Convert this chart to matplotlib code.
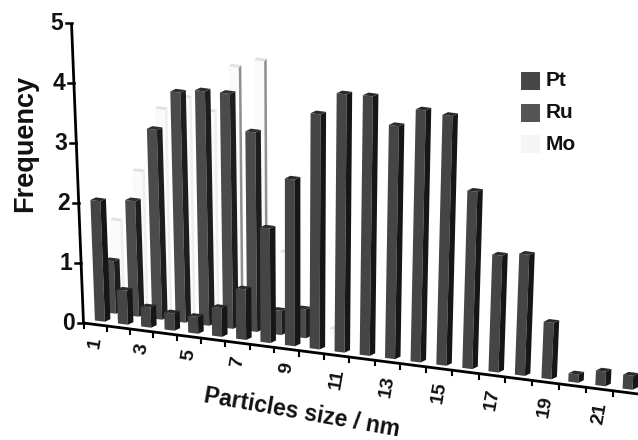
"""Skewed pseudo-3D histogram of particle sizes for Pt, Ru and Mo."""

import matplotlib

matplotlib.use("Agg")
import matplotlib.pyplot as plt  # noqa: E402
import numpy as np  # noqa: E402

plt.rcParams["font.family"] = ["Liberation Sans", "DejaVu Sans"]

pt_sizes = list(range(1, 23))
pt_freq = [2.0, 0.56, 0.33, 0.28, 0.27, 0.46, 0.8, 1.8, 2.6, 3.64, 3.97,
           3.96, 3.53, 3.79, 3.73, 2.63, 1.72, 1.77, 0.82, 0.12, 0.21, 0.2]
ru_sizes = list(range(1, 10))
ru_freq = [0.87, 1.9, 3.1, 3.73, 3.77, 3.75, 3.16, 0.38, 0.45]
mo_sizes = [2, 3, 4, 5, 6, 7, 8, 9, 11]
mo_freq = [1.44, 2.28, 3.32, 3.53, 3.33, 4.06, 4.18, 1.2, 0.1]
y_ticks = [0, 1, 2, 3, 4, 5]
x_tick_labels = [1, 3, 5, 7, 9, 11, 13, 15, 17, 19, 21]
legend_names = ["Pt", "Ru", "Mo"]
legend_colors = ["#474747", "#555555", "#f5f5f5"]


def axis_x(t):
    return 83.5 + 23.0 * t + 0.1056 * t**2


def axis_y(x):
    return 323 + 0.128 * (x - 83.5)


def project(t, v):
    # bin index t, frequency v -> picture pixels (the verticals fan out a bit)
    x0 = axis_x(t)
    return x0 + (-2.4 + 0.28 * t) * v, axis_y(x0) - 60 * (1 + 0.008 * t) * v


def draw_bar(ax, size, value, dx, dy, front, side, top, front_w=10.0, side_w=5.5):
    t = size - 0.5
    x0, y0 = project(t, 0)
    x1, y1 = project(t, value)
    x0 += dx - 0.2 * t
    x1 += dx - 0.2 * t
    y0 += dy
    y1 += dy
    slope = 0.128 * front_w
    rise = 2.6
    ax.fill([x0, x0 + front_w, x1 + front_w, x1],
            [y0, y0 + slope, y1 + slope, y1], color=front, lw=0)
    ax.fill([x0 + front_w, x0 + front_w + side_w, x1 + front_w + side_w, x1 + front_w],
            [y0 + slope, y0 + slope - rise, y1 + slope - rise, y1 + slope], color=side, lw=0)
    ax.fill([x1, x1 + front_w, x1 + front_w + side_w, x1 + side_w],
            [y1, y1 + slope, y1 + slope - rise, y1 - rise], color=top, lw=0)


def main() -> None:
    fig = plt.figure(figsize=(6.38, 4.4), dpi=100)
    ax = fig.add_axes([0, 0, 1, 1])
    ax.set_xlim(0, 638)
    ax.set_ylim(440, 0)
    ax.axis("off")

    # back to front: Mo, Ru, Pt
    for size, value in zip(mo_sizes, mo_freq):
        side = "#8f8f8f" if size in (7, 8) else "#efefef"
        draw_bar(ax, size, value, -5, -20, "#fafafa", side, "#e2e2e2", side_w=2.5)
    for size, value in zip(ru_sizes, ru_freq):
        draw_bar(ax, size, value, 11, -12, "#4b4b4b", "#1d1d1d", "#2e2e2e")
    for size, value in zip(pt_sizes, pt_freq):
        draw_bar(ax, size, value, 0, -4, "#454545", "#161616", "#2a2a2a")

    # axes
    xb, yb = project(0, 0)
    xt, yt = project(0, 5)
    ax.plot([xb, xt], [yb, yt], color="black", lw=2, solid_capstyle="butt")
    ax.plot([xb, 638], [yb, axis_y(638)], color="black", lw=2, solid_capstyle="butt")
    for v in y_ticks:
        x, y = project(0, v)
        ax.plot([x - 6, x], [y, y], color="black", lw=1.8)
        ax.text(x - 9, y, str(v), ha="right", va="center", fontsize=16.5, fontweight="bold",
                color="#111111")
    for t in np.arange(0, 23):
        x = axis_x(t)
        if x < 638:
            ax.plot([x, x], [axis_y(x), axis_y(x) + 5], color="black", lw=1.5)
    for size in x_tick_labels:
        x = axis_x(size - 0.5)
        ax.text(x, axis_y(x) + 12, str(size), ha="center", va="top", rotation=80,
                fontsize=14, fontweight="bold", color="#111111")

    ax.text(25, 143, "Frequency", rotation=90, ha="center", va="center",
            fontsize=19.5, fontweight="bold", color="#111111")
    ax.text(302, 413, "Particles size / nm", rotation=-10, ha="center", va="center",
            rotation_mode="anchor", fontsize=16.5, fontweight="bold", color="#111111")

    # legend
    for name, color, y in zip(legend_names, legend_colors, [81, 113, 144]):
        ax.fill([521, 540, 540, 521], [y - 9, y - 9, y + 9, y + 9], color=color, lw=0)
        ax.text(546, y, name, ha="left", va="center", fontsize=15, fontweight="bold",
                color="#111111")

    fig.savefig("out.png", dpi=100)


if __name__ == "__main__":
    main()
